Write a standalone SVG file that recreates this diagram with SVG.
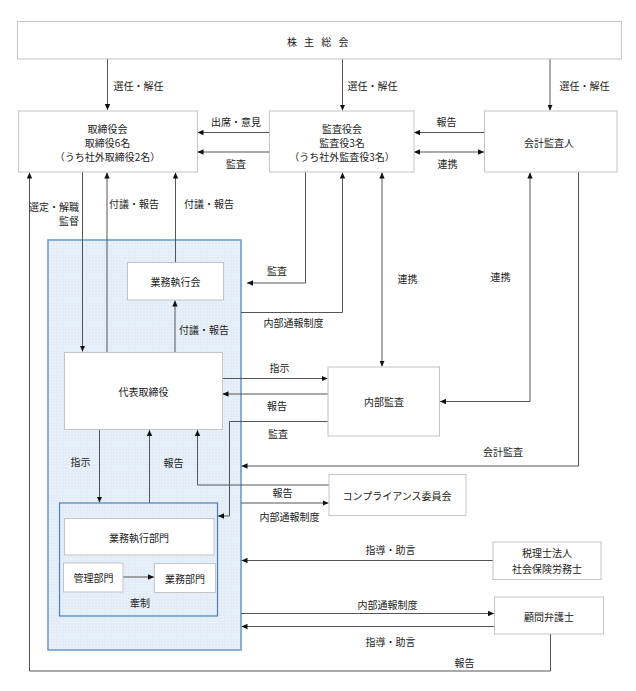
<svg xmlns="http://www.w3.org/2000/svg" width="636" height="691" viewBox="0 0 636 691">
<defs>
<style>
text{font-family:"Noto Sans CJK JP","Noto Sans",sans-serif;font-size:10px;fill:#222;text-anchor:middle;dominant-baseline:central}
.box{fill:#fff;stroke:#c4c4c4;stroke-width:1}
.cn{fill:url(#dots);stroke:#6a96cc;stroke-width:1.5}
.inner{fill:none;stroke:#4f7fb9;stroke-width:1.2}
.ln{fill:none;stroke:#555;stroke-width:1}
.ar{marker-end:url(#ah)}
.da{marker-start:url(#ah);marker-end:url(#ah)}
.e{text-anchor:end}
.sp{letter-spacing:2.5px}
</style>
<pattern id="dots" width="3" height="3" patternUnits="userSpaceOnUse">
<rect width="3" height="3" fill="#e3edf8"/>
<rect x="1" y="1" width="1" height="1" fill="#f3f7fc"/>
</pattern>
<marker id="ah" markerWidth="6" markerHeight="6" refX="6" refY="3" orient="auto-start-reverse" markerUnits="userSpaceOnUse">
<path d="M0,0.3 L6,3 L0,5.7 z" fill="#111"/>
</marker>
</defs>
<rect width="636" height="691" fill="#fff"/>

<g id="container">
<rect class="cn" x="48" y="240" width="193" height="410"/>
</g>

<g id="connectors">
<path class="ln ar" d="M107.5,59 V110"/>
<path class="ln ar" d="M342.5,59 V110.5"/>
<path class="ln ar" d="M550,59 V110.5"/>
<path class="ln ar" d="M269,132.5 H197.5"/>
<path class="ln ar" d="M269,152 H197.5"/>
<path class="ln ar" d="M484,132.5 H414"/>
<path class="ln da" d="M414,152 H484"/>
<path class="ln ar" d="M550.5,634 V671 H29.5 V172.5"/>
<path class="ln ar" d="M82.5,172 V351.5"/>
<path class="ln ar" d="M107,352 V172.5"/>
<path class="ln ar" d="M175.5,262 V172.5"/>
<path class="ln ar" d="M175,352 V300.5"/>
<path class="ln ar" d="M305.5,172 V283 H247"/>
<path class="ln ar" d="M241,312.5 H342.5 V172.5"/>
<path class="ln da" d="M382,172.5 V366.5"/>
<path class="ln da" d="M530,172.5 V401.5 H440"/>
<path class="ln ar" d="M578.5,172 V466 H241.5"/>
<path class="ln ar" d="M222,378.5 H327.5"/>
<path class="ln ar" d="M328,394 H222.5"/>
<path class="ln ar" d="M328,421.5 H229.5 V516 H218"/>
<path class="ln ar" d="M99.5,429.5 V502.5"/>
<path class="ln ar" d="M149.5,503 V430"/>
<path class="ln ar" d="M329,485 H197.5 V430"/>
<path class="ln ar" d="M241,503 H328.5"/>
<path class="ln ar" d="M123,577 H154"/>
<path class="ln ar" d="M493,560.5 H241.5"/>
<path class="ln ar" d="M241,613.5 H494"/>
<path class="ln ar" d="M494,626.5 H241.5"/>
</g>

<g id="labels">
<text x="138.5" y="85">選任・解任</text>
<text x="372.5" y="85">選任・解任</text>
<text x="584.5" y="85.5">選任・解任</text>
<text x="236" y="121.5">出席・意見</text>
<text x="236" y="163">監査</text>
<text x="446.5" y="121">報告</text>
<text x="447.5" y="163.5">連携</text>
<text class="e" x="79" y="206.5">選定・解職</text>
<text class="e" x="79" y="220">監督</text>
<text x="134" y="203">付議・報告</text>
<text x="209" y="203">付議・報告</text>
<text x="277" y="270.5">監査</text>
<text x="293.5" y="322">内部通報制度</text>
<text x="407.5" y="278.5">連携</text>
<text x="500.5" y="276.5">連携</text>
<text x="204" y="329.5">付議・報告</text>
<text x="279.5" y="367.5">指示</text>
<text x="277" y="405">報告</text>
<text x="278" y="433.5">監査</text>
<text x="503" y="451">会計監査</text>
<text x="80.5" y="461">指示</text>
<text x="173.5" y="462.5">報告</text>
<text x="282.5" y="492.5">報告</text>
<text x="289.5" y="516">内部通報制度</text>
<text x="390.5" y="549.5">指導・助言</text>
<text x="387.5" y="604.5">内部通報制度</text>
<text x="390.5" y="641.5">指導・助言</text>
<text x="464.5" y="662">報告</text>
</g>

<g id="shareholders">
<rect class="box" x="17.5" y="21.5" width="604" height="37.5"/>
<text class="sp" x="319" y="41">株 主 総 会</text>
</g>
<g id="board">
<rect class="box" x="18.5" y="111" width="179" height="61"/>
<text x="107.5" y="128.5">取締役会</text>
<text x="107.5" y="142">取締役6名</text>
<text x="107.5" y="156">（うち社外取締役2名）</text>
</g>
<g id="auditors">
<rect class="box" x="269.5" y="111" width="144.5" height="61"/>
<text x="342" y="128.5">監査役会</text>
<text x="342" y="142">監査役3名</text>
<text x="342" y="156">（うち社外監査役3名）</text>
</g>
<g id="accounting-auditor">
<rect class="box" x="484.5" y="111" width="132.5" height="61"/>
<text x="549" y="142">会計監査人</text>
</g>
<g id="exec-meeting">
<rect class="box" x="127.5" y="262.5" width="96" height="37.5"/>
<text x="175.5" y="281.5">業務執行会</text>
</g>
<g id="president">
<rect class="box" x="64.5" y="352.5" width="158" height="77"/>
<text x="143.5" y="391.5">代表取締役</text>
</g>
<g id="internal-audit">
<rect class="box" x="328" y="367" width="111.5" height="69"/>
<text x="384" y="401.5">内部監査</text>
</g>
<g id="compliance">
<rect class="box" x="329" y="474.5" width="137" height="41"/>
<text x="397" y="495">コンプライアンス委員会</text>
</g>
<g id="exec-division">
<rect class="inner" x="59.5" y="503" width="158" height="113"/>
<text x="140" y="602.5">牽制</text>
</g>
<g id="exec-dept">
<rect class="box" x="64.5" y="518.5" width="149.5" height="36.5"/>
<text x="139" y="537">業務執行部門</text>
</g>
<g id="admin-dept">
<rect class="box" x="63.5" y="563" width="59.5" height="29"/>
<text x="93.5" y="577.5">管理部門</text>
</g>
<g id="business-dept">
<rect class="box" x="154.5" y="563.5" width="61" height="29"/>
<text x="185" y="578">業務部門</text>
</g>
<g id="tax">
<rect class="box" x="493" y="542" width="108" height="37.5"/>
<text x="547" y="552.5">税理士法人</text>
<text x="547" y="568.5">社会保険労務士</text>
</g>
<g id="lawyer">
<rect class="box" x="494.5" y="597" width="109" height="37"/>
<text x="549" y="616">顧問弁護士</text>
</g>
</svg>
